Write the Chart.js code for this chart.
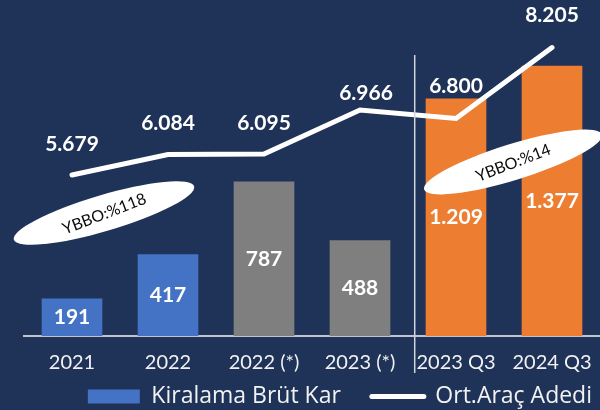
<!DOCTYPE html>
<html>
<head>
<meta charset="utf-8">
<script src="https://cdn.jsdelivr.net/npm/chart.js@4/dist/chart.umd.min.js"></script>
<style>
  html, body { margin: 0; padding: 0; background: #1f3258; }
  #wrap { width: 600px; height: 410px; }
</style>
</head>
<body>
<div id="wrap"><canvas id="chart" width="600" height="410"></canvas></div>
<script>
// data
const periods = ['2021', '2022', '2022 (*)', '2023 (*)', '2023 Q3', '2024 Q3'];
const grossProfit = [191, 417, 787, 488, 1209, 1377];      // Kiralama Brüt Kar
const avgVehicles = [5679, 6084, 6095, 6966, 6800, 8205];  // Ort.Araç Adedi
const growthNotes = ['YBBO:%118', 'YBBO:%14'];

const BLUE = '#4472c4';
const GREY = '#7f7f7f';
const ORANGE = '#ed7d31';
const barColors = [BLUE, BLUE, GREY, GREY, ORANGE, ORANGE];

// label nudges for the line values [dx, lift]
const lineLabelShift = [[0, 31], [0, 31], [0, 31], [6, 17], [0, 32], [0, 32]];

const fmt = v => String(v).replace(/\B(?=(\d{3})+(?!\d))/g, '.');

Chart.defaults.font.family = 'Lato, "Open Sans", sans-serif';

// bar / line value labels, separator and the two YBBO ovals
const extras = {
  id: 'extras',
  afterDatasetsDraw(chart) {
    const ctx = chart.ctx;
    const x = chart.scales.x;

    // divider between annual and quarterly figures
    const sx = x.getPixelForValue(3.57);
    ctx.save();
    ctx.strokeStyle = '#d0d4dc';
    ctx.lineWidth = 1.5;
    ctx.beginPath();
    ctx.moveTo(sx, 55);
    ctx.lineTo(sx, 373);
    ctx.stroke();
    ctx.restore();

    ctx.save();
    ctx.fillStyle = '#ffffff';
    ctx.font = 'bold 21px Lato, sans-serif';
    ctx.textAlign = 'center';
    ctx.textBaseline = 'middle';
    chart.getDatasetMeta(0).data.forEach((bar, i) => {
      const mid = (bar.y + bar.base) / 2;
      ctx.fillText(fmt(grossProfit[i]), bar.x, mid);
    });
    chart.getDatasetMeta(1).data.forEach((pt, i) => {
      const [dx, lift] = lineLabelShift[i];
      ctx.fillText(fmt(avgVehicles[i]), pt.x + dx, pt.y - lift);
    });
    ctx.restore();

    const ovals = [
      { cx: 104, cy: 213, a: 94, b: 18, rot: -16.5, trot: -21 },
      { cx: 513, cy: 162, a: 93, b: 18, rot: -17.2, trot: -21 }
    ];
    ovals.forEach((o, i) => {
      ctx.save();
      ctx.translate(o.cx, o.cy);
      ctx.rotate(o.rot * Math.PI / 180);
      ctx.fillStyle = '#ffffff';
      ctx.beginPath();
      ctx.ellipse(0, 0, o.a, o.b, 0, 0, Math.PI * 2);
      ctx.fill();
      ctx.rotate((o.trot - o.rot) * Math.PI / 180);
      ctx.fillStyle = '#0a0a0a';
      ctx.font = '16px Lato, sans-serif';
      ctx.textAlign = 'center';
      ctx.textBaseline = 'middle';
      ctx.fillText(growthNotes[i], 0, 1);
      ctx.restore();
    });
  }
};

new Chart(document.getElementById('chart'), {
  data: {
    labels: periods,
    datasets: [
      {
        type: 'bar',
        label: 'Kiralama Brüt Kar',
        data: grossProfit,
        backgroundColor: barColors,
        yAxisID: 'y',
        barPercentage: 0.8,
        categoryPercentage: 0.79,
        order: 2
      },
      {
        type: 'line',
        label: 'Ort.Araç Adedi',
        data: avgVehicles,
        borderColor: '#ffffff',
        borderWidth: 5,
        borderCapStyle: 'round',
        borderJoinStyle: 'miter',
        pointRadius: 0,
        tension: 0,
        yAxisID: 'y1',
        order: 1
      }
    ]
  },
  options: {
    responsive: false,
    animation: false,
    devicePixelRatio: 1,
    layout: { padding: { left: 24, right: 0, top: 14, bottom: -8 } },
    plugins: {
      tooltip: { enabled: false },
      legend: {
        position: 'bottom',
        align: 'end',
        labels: {
          color: '#f2f2f2',
          font: { size: 23, family: '"Open Sans", Lato, sans-serif' },
          usePointStyle: true,
          pointStyleWidth: 52,
          boxHeight: 14,
          padding: 8,
          generateLabels: chart => chart.data.datasets.map((ds, i) => ({
            // trailing em space widens the gap between the two entries
            text: ds.type === 'line' ? ds.label : ds.label + '\u2003',
            fillStyle: ds.type === 'line' ? '#ffffff' : BLUE,
            strokeStyle: '#ffffff',
            lineWidth: ds.type === 'line' ? 5 : 0,
            lineCap: 'round',
            pointStyle: ds.type === 'line' ? 'line' : 'rect',
            fontColor: '#f2f2f2',
            hidden: false,
            datasetIndex: i
          }))
        }
      }
    },
    scales: {
      x: {
        grid: { display: false, drawTicks: false },
        border: { display: true, color: '#bfc3cc', width: 2 },
        ticks: { color: '#f2f2f2', font: { size: 20 }, padding: 15 },
        afterFit: s => { s.paddingLeft = 0; s.paddingRight = 0; s.height = 41; }
      },
      y: { display: false, min: 0, max: 1640 },
      y1: { display: false, min: 2487, max: 8871 }
    }
  },
  plugins: [extras]
});
</script>
</body>
</html>
